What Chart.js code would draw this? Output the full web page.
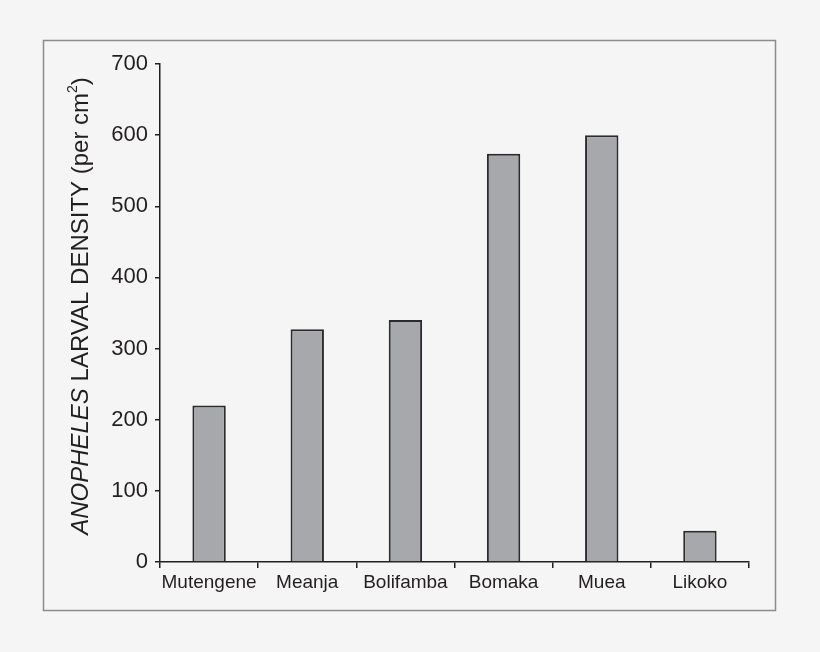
<!DOCTYPE html>
<html>
<head>
<meta charset="utf-8">
<script src="https://cdn.jsdelivr.net/npm/chart.js@4/dist/chart.umd.min.js"></script>
<style>
	html, body { margin: 0; padding: 0; background: #f5f5f5; }
	#wrap { width: 820px; height: 652px; }
</style>
</head>
<body>
<div id="wrap"><canvas id="grafico" width="820" height="652"></canvas></div>
<script>
const locais = ['Mutengene', 'Meanja', 'Bolifamba', 'Bomaka', 'Muea', 'Likoko']
const densidade = [220, 327, 340, 574, 600, 44]
const ticksY = [0, 100, 200, 300, 400, 500, 600, 700]
const tituloItalico = 'ANOPHELES'
const tituloResto = ' LARVAL DENSITY (per cm'
const corTexto = '#231f20'
const fonte = '"Liberation Sans", Arial, sans-serif'

// moldura + titulo do eixo y (parte em italico, com expoente)
const moldura = {
	id: 'moldura',
	beforeDraw(chart) {
		const c = chart.ctx
		c.save()
		c.strokeStyle = '#8c8c8c'
		c.lineWidth = 1.5
		c.strokeRect(43.5, 40.5, 732, 570)
		c.restore()
	},
	afterDraw(chart) {
		const c = chart.ctx
		const meio = (chart.chartArea.top + chart.chartArea.bottom) / 2 - 7
		c.save()
		c.fillStyle = corTexto
		c.textBaseline = 'alphabetic'
		c.font = 'italic 24px ' + fonte
		const w1 = c.measureText(tituloItalico).width
		c.font = '24px ' + fonte
		const w2 = c.measureText(tituloResto).width
		c.font = '14px ' + fonte
		const w3 = c.measureText('2').width
		c.font = '24px ' + fonte
		const w4 = c.measureText(')').width
		const total = w1 + w2 + w3 + w4
		c.translate(88, meio + total / 2)
		c.rotate(-Math.PI / 2)
		c.font = 'italic 24px ' + fonte
		c.fillText(tituloItalico, 0, 0)
		c.font = '24px ' + fonte
		c.fillText(tituloResto, w1, 0)
		c.font = '14px ' + fonte
		c.fillText('2', w1 + w2, -11)
		c.font = '24px ' + fonte
		c.fillText(')', w1 + w2 + w3, 0)
		c.restore()
	}
}

const chart = new Chart(document.getElementById('grafico'), {
	type: 'bar',
	data: {
		labels: locais,
		datasets: [{
			data: densidade,
			backgroundColor: '#a7a8ac',
			borderColor: '#2b2b2b',
			borderWidth: 2,
			categoryPercentage: 1,
			barPercentage: 0.34
		}]
	},
	options: {
		responsive: false,
		animation: false,
		layout: { padding: { left: 0, top: 64, right: 71, bottom: 0 } },
		plugins: { legend: { display: false }, tooltip: { enabled: false } },
		scales: {
			x: {
				afterFit: (s) => { s.height = 90 },
				grid: { drawOnChartArea: false, drawTicks: true, tickLength: 6, color: corTexto, lineWidth: 1.5, offset: true },
				border: { color: corTexto, width: 1.5 },
				ticks: { color: corTexto, padding: 3, autoSkip: false, maxRotation: 0, minRotation: 0, font: { size: 19, family: fonte } }
			},
			y: {
				min: 0,
				max: 700,
				afterFit: (s) => { s.width = 160 },
				afterBuildTicks: (s) => { s.ticks = ticksY.map((v) => ({ value: v })) },
				grid: { drawOnChartArea: false, drawTicks: true, tickLength: 5, color: corTexto, lineWidth: 1.5 },
				border: { color: corTexto, width: 1.5 },
				ticks: { color: corTexto, padding: 7, font: { size: 22, family: fonte } }
			}
		}
	},
	plugins: [moldura]
})
</script>
</body>
</html>
